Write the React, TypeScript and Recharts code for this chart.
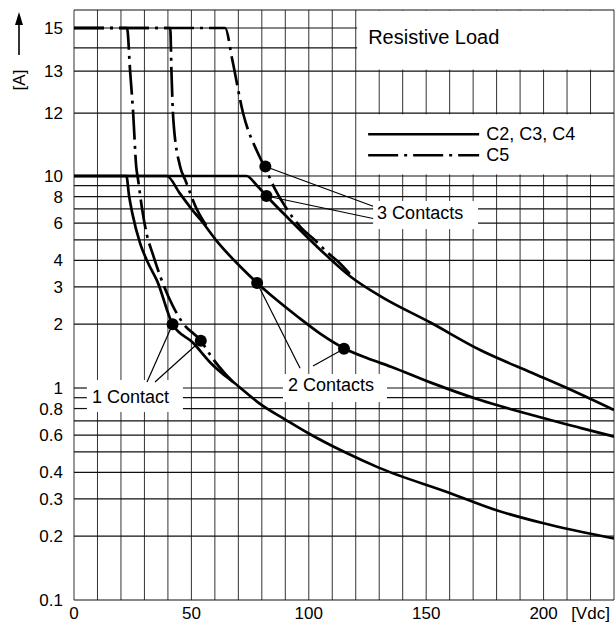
import React from 'react';
import {
  ComposedChart,
  Line,
  Scatter,
  XAxis,
  YAxis,
  ReferenceArea,
  ReferenceLine,
} from 'recharts';

const FONT = '"Liberation Sans", Arial, Helvetica, sans-serif';

// ---- Y scale: logarithmic up to 10 A, stretched steps above 10 A ----
const UPPER_AMPS = [10, 12, 13, 14, 15, 16];
const UPPER_POS = [1, 1.297, 1.495, 1.604, 1.698, 1.783];

function pos(a: number): number {
  if (a <= 10) return Math.log10(a);
  for (let i = 1; i < UPPER_AMPS.length; i++) {
    if (a <= UPPER_AMPS[i]) {
      const t = (a - UPPER_AMPS[i - 1]) / (UPPER_AMPS[i] - UPPER_AMPS[i - 1]);
      return UPPER_POS[i - 1] + t * (UPPER_POS[i] - UPPER_POS[i - 1]);
    }
  }
  return UPPER_POS[UPPER_POS.length - 1];
}

// ---- Axis ticks and grid ----
const Y_TICKS = [0.1, 0.2, 0.3, 0.4, 0.6, 0.8, 1, 2, 3, 4, 6, 8, 10, 12, 13, 15];
const Y_GRID = [0.1, 0.2, 0.3, 0.4, 0.5, 0.6, 0.7, 0.8, 0.9, 1, 2, 3, 4, 5, 6, 7, 8, 9, 10, 12, 13, 14, 15, 16];
const X_TICKS = [0, 50, 100, 150, 200];
const X_UNIT_AT = 220;
const X_UNIT = '[Vdc]';
const Y_UNIT = '[A]';
const X_GRID = [0, 10, 20, 30, 40, 50, 60, 70, 80, 90, 100, 110, 120, 130, 140, 150, 160, 170, 180, 190, 200, 210, 220, 230];

// ---- Curves: C2, C3, C4 (solid) ----
const C234_1_V = [0, 22.3, 23.5, 24.8, 28.2, 31.5, 35.4, 42, 50.8, 58, 70, 80, 90, 100, 115, 130, 160, 180, 200, 230];
const C234_1_A = [10, 10, 8, 6.7, 4.8, 3.9, 3.2, 2.0, 1.63, 1.32, 1.02, 0.83, 0.71, 0.61, 0.5, 0.42, 0.32, 0.265, 0.23, 0.195];

const C234_2_V = [0, 39.5, 45, 50, 54, 61, 71, 78, 86, 95, 105, 115, 125, 135, 152, 173, 195, 216, 230];
const C234_2_A = [10, 10, 8.3, 7.0, 6.2, 4.9, 3.72, 3.13, 2.62, 2.18, 1.8, 1.54, 1.38, 1.26, 1.06, 0.877, 0.746, 0.647, 0.59];

const C234_3_V = [0, 73.5, 78, 82, 92, 105, 118, 131, 152, 173, 195, 209, 230];
const C234_3_A = [10, 10, 9.0, 8.05, 6.2, 4.48, 3.34, 2.69, 2.03, 1.51, 1.18, 1.01, 0.787];

// ---- Curves: C5 (dash-dot) ----
const C5_1_V = [0, 22.6, 23.9, 25.2, 26.5, 27.3, 29, 31, 33.5, 37, 42, 46, 54, 59, 64, 68];
const C5_1_A = [15, 15, 13, 12, 10.3, 9.6, 7.0, 5.3, 4.3, 3.3, 2.45, 2.05, 1.67, 1.38, 1.18, 1.06];

const C5_2_V = [0, 41, 41.5, 42.3, 45.2, 47.4, 52.5, 56.5];
const C5_2_A = [15, 15, 13, 11.8, 10.3, 9.57, 6.9, 5.8];

const C5_3_V = [0, 64.4, 67.4, 72, 78.1, 81.5, 85.8, 90.9, 96.4, 102.9, 108, 113, 118];
const C5_3_A = [15, 15, 13.5, 12, 10.76, 10.25, 8.59, 6.92, 5.75, 4.95, 4.35, 3.9, 3.4];

// ---- Marked points ----
const DOT_V = [81.5, 82, 78, 115, 42, 54];
const DOT_A = [10.3, 8.05, 3.13, 1.53, 2.0, 1.67];

// ---- Texts ----
const TITLE = 'Resistive Load';
const LEGEND_SOLID = 'C2, C3, C4';
const LEGEND_DASH = 'C5';
const LABEL_1 = '1 Contact';
const LABEL_2 = '2 Contacts';
const LABEL_3 = '3 Contacts';

const mk = (V: number[], A: number[]) => V.map((v, i) => ({ v, a: pos(A[i]) }));

const DASH = '30 6 3 6';
const INK = '#000';
const X_MIN = 0;
const X_MAX = 230;
const A_MIN = 0.1;
const A_MAX = 16;

// text boxes (in data units) that hide the grid underneath
type Box = { x1: number; x2: number; a1: number; a2: number };
const BOX_TITLE: Box = { x1: 120.6, x2: 230, a1: 13.06, a2: 15.97 };
const BOX_LEGEND: Box = { x1: 120.6, x2: 230, a1: 10.05, a2: 11.96 };
const BOX_1: Box = { x1: 5.5, x2: 46.4, a1: 0.771, a2: 1.09 };
const BOX_2: Box = { x1: 89, x2: 133.3, a1: 0.859, a2: 1.164 };
const BOX_3: Box = { x1: 127.4, x2: 172.1, a1: 5.62, a2: 7.62 };
const BOXES = [BOX_TITLE, BOX_LEGEND, BOX_1, BOX_2, BOX_3];

function cutRanges(lo: number, hi: number, holes: [number, number][]): [number, number][] {
  const hs = holes.slice().sort((p, q) => p[0] - q[0]);
  const out: [number, number][] = [];
  let cur = lo;
  hs.forEach(([a, b]) => {
    if (a > cur) out.push([cur, a]);
    cur = Math.max(cur, b);
  });
  if (cur < hi) out.push([cur, hi]);
  return out;
}

const boxText = (text: string, dx: number, dy: number, size: number) => (props: any) => {
  const vb = props.viewBox || {};
  return (
    <text
      x={vb.x + dx}
      y={vb.y + vb.height / 2 + dy}
      fontFamily={FONT}
      fontSize={size}
      fill={INK}
      dominantBaseline="central"
      textAnchor="start"
    >
      {text}
    </text>
  );
};

const legendContent = (props: any) => {
  const vb = props.viewBox || {};
  const x0 = vb.x + 11;
  const y1 = vb.y + 20;
  const y2 = vb.y + 41;
  return (
    <g>
      <line x1={x0} y1={y1} x2={x0 + 111} y2={y1} stroke={INK} strokeWidth={2.6} />
      <line x1={x0} y1={y2} x2={x0 + 111} y2={y2} stroke={INK} strokeWidth={2.6} strokeDasharray={DASH} />
      <text x={x0 + 118} y={y1} fontFamily={FONT} fontSize={18} fill={INK} dominantBaseline="central">
        {LEGEND_SOLID}
      </text>
      <text x={x0 + 118} y={y2} fontFamily={FONT} fontSize={18} fill={INK} dominantBaseline="central">
        {LEGEND_DASH}
      </text>
    </g>
  );
};

const yUnitContent = (props: any) => {
  const vb = props.viewBox || {};
  const cx = vb.x + 19;
  const top = vb.y;
  return (
    <g>
      <line x1={cx} y1={top + 14} x2={cx} y2={top + 45} stroke={INK} strokeWidth={1.6} />
      <polygon points={`${cx},${top + 2} ${cx - 4},${top + 15} ${cx + 4},${top + 15}`} fill={INK} />
      <text
        x={cx}
        y={top + 70}
        transform={`rotate(-90 ${cx} ${top + 70})`}
        fontFamily={FONT}
        fontSize={17}
        fill={INK}
        textAnchor="middle"
        dominantBaseline="central"
      >
        {Y_UNIT}
      </text>
    </g>
  );
};

export default function App() {
  const dots = DOT_V.map((v, i) => ({ v, a: pos(DOT_A[i]) }));
  const yTickPos = Y_TICKS.map(pos);
  const fmtY = (p: number) => {
    let best = Y_TICKS[0];
    let bd = Infinity;
    Y_TICKS.forEach((t) => {
      const d = Math.abs(pos(t) - p);
      if (d < bd) {
        bd = d;
        best = t;
      }
    });
    return String(best);
  };
  const fmtX = (v: number) => (v === X_UNIT_AT ? X_UNIT : String(v));

  const lineProps = {
    dataKey: 'a',
    type: 'monotone' as const,
    stroke: INK,
    strokeWidth: 2.7,
    dot: false,
    activeDot: false,
    isAnimationActive: false,
  };

  const seg = (x1: number, y1: number, x2: number, y2: number, key: string, stroke: string, w: number) => (
    <ReferenceLine
      key={key}
      segment={[
        { x: x1, y: y1 },
        { x: x2, y: y2 },
      ]}
      stroke={stroke}
      strokeWidth={w}
      ifOverflow="visible"
    />
  );

  // horizontal grid, broken where a text box sits
  const hGrid: React.ReactNode[] = [];
  Y_GRID.forEach((g) => {
    const holes = BOXES.filter((b) => g > b.a1 && g < b.a2).map((b) => [b.x1, b.x2] as [number, number]);
    cutRanges(X_MIN, X_MAX, holes).forEach(([a, b], i) => {
      hGrid.push(seg(a, pos(g), b, pos(g), `h${g}-${i}`, '#111', 1.2));
    });
  });
  const vGrid: React.ReactNode[] = [];
  X_GRID.forEach((g) => {
    const holes = BOXES.filter((b) => g > b.x1 && g < b.x2).map((b) => [pos(b.a1), pos(b.a2)] as [number, number]);
    cutRanges(pos(A_MIN), pos(A_MAX), holes).forEach(([a, b], i) => {
      vGrid.push(seg(g, a, g, b, `v${g}-${i}`, '#333', 1));
    });
  });

  const leader = (x1: number, a1: number, x2: number, a2: number, key: string) =>
    seg(x1, pos(a1), x2, pos(a2), key, INK, 1.2);

  const labelArea = (b: Box, content: any, key: string) => (
    <ReferenceArea
      key={key}
      x1={b.x1}
      x2={b.x2}
      y1={pos(b.a1)}
      y2={pos(b.a2)}
      fill="none"
      fillOpacity={0}
      stroke="none"
      label={{ content }}
    />
  );

  return (
    <div style={{ position: 'absolute', left: 0, top: 0, width: 616, height: 627, background: '#fff' }}>
      <ComposedChart width={616} height={627} margin={{ top: 10, right: 2, bottom: 0, left: 0 }}>
        <XAxis
          type="number"
          dataKey="v"
          domain={[X_MIN, X_MAX]}
          allowDataOverflow
          ticks={[...X_TICKS, X_UNIT_AT]}
          interval={0}
          tickFormatter={fmtX}
          axisLine={false}
          tickLine={false}
          tickSize={0}
          tickMargin={7}
          height={27}
          tick={{ fontSize: 17, fill: INK, fontFamily: FONT }}
        />
        <YAxis
          type="number"
          dataKey="a"
          domain={[pos(A_MIN), pos(A_MAX)]}
          allowDataOverflow
          ticks={yTickPos}
          interval={0}
          tickFormatter={fmtY}
          axisLine={false}
          tickLine={false}
          tickSize={0}
          tickMargin={11}
          width={74}
          tick={{ fontSize: 17, fill: INK, fontFamily: FONT }}
          label={{ content: yUnitContent }}
        />

        {vGrid}
        {hGrid}

        {labelArea(BOX_TITLE, boxText(TITLE, 11, -3, 20), 'bt')}
        {labelArea(BOX_LEGEND, legendContent, 'bl')}
        {labelArea(BOX_1, boxText(LABEL_1, 5, 1, 18), 'b1')}
        {labelArea(BOX_2, boxText(LABEL_2, 5, -3, 18), 'b2')}
        {labelArea(BOX_3, boxText(LABEL_3, 4, -2, 18), 'b3')}

        {/* curves */}
        <Line {...lineProps} data={mk(C234_1_V, C234_1_A)} />
        <Line {...lineProps} data={mk(C234_2_V, C234_2_A)} />
        <Line {...lineProps} data={mk(C234_3_V, C234_3_A)} />
        <Line {...lineProps} data={mk(C5_1_V, C5_1_A)} strokeDasharray={DASH} />
        <Line {...lineProps} data={mk(C5_2_V, C5_2_A)} strokeDasharray={DASH} />
        <Line {...lineProps} data={mk(C5_3_V, C5_3_A)} strokeDasharray={DASH} />

        {/* leader lines */}
        {leader(DOT_V[0], DOT_A[0], 127.4, 7.2, 'l30')}
        {leader(DOT_V[1], DOT_A[1], 127.4, 6.3, 'l31')}
        {leader(DOT_V[2], DOT_A[2], 96.3, 1.24, 'l20')}
        {leader(DOT_V[3], DOT_A[3], 101.8, 1.27, 'l21')}
        {leader(DOT_V[4], DOT_A[4], 31.1, 1.067, 'l10')}
        {leader(DOT_V[5], DOT_A[5], 34.5, 1.067, 'l11')}

        <Scatter
          data={dots}
          dataKey="a"
          fill={INK}
          isAnimationActive={false}
          shape={(p: any) => <circle cx={p.cx} cy={p.cy} r={6} fill={INK} />}
        />
      </ComposedChart>
    </div>
  );
}
